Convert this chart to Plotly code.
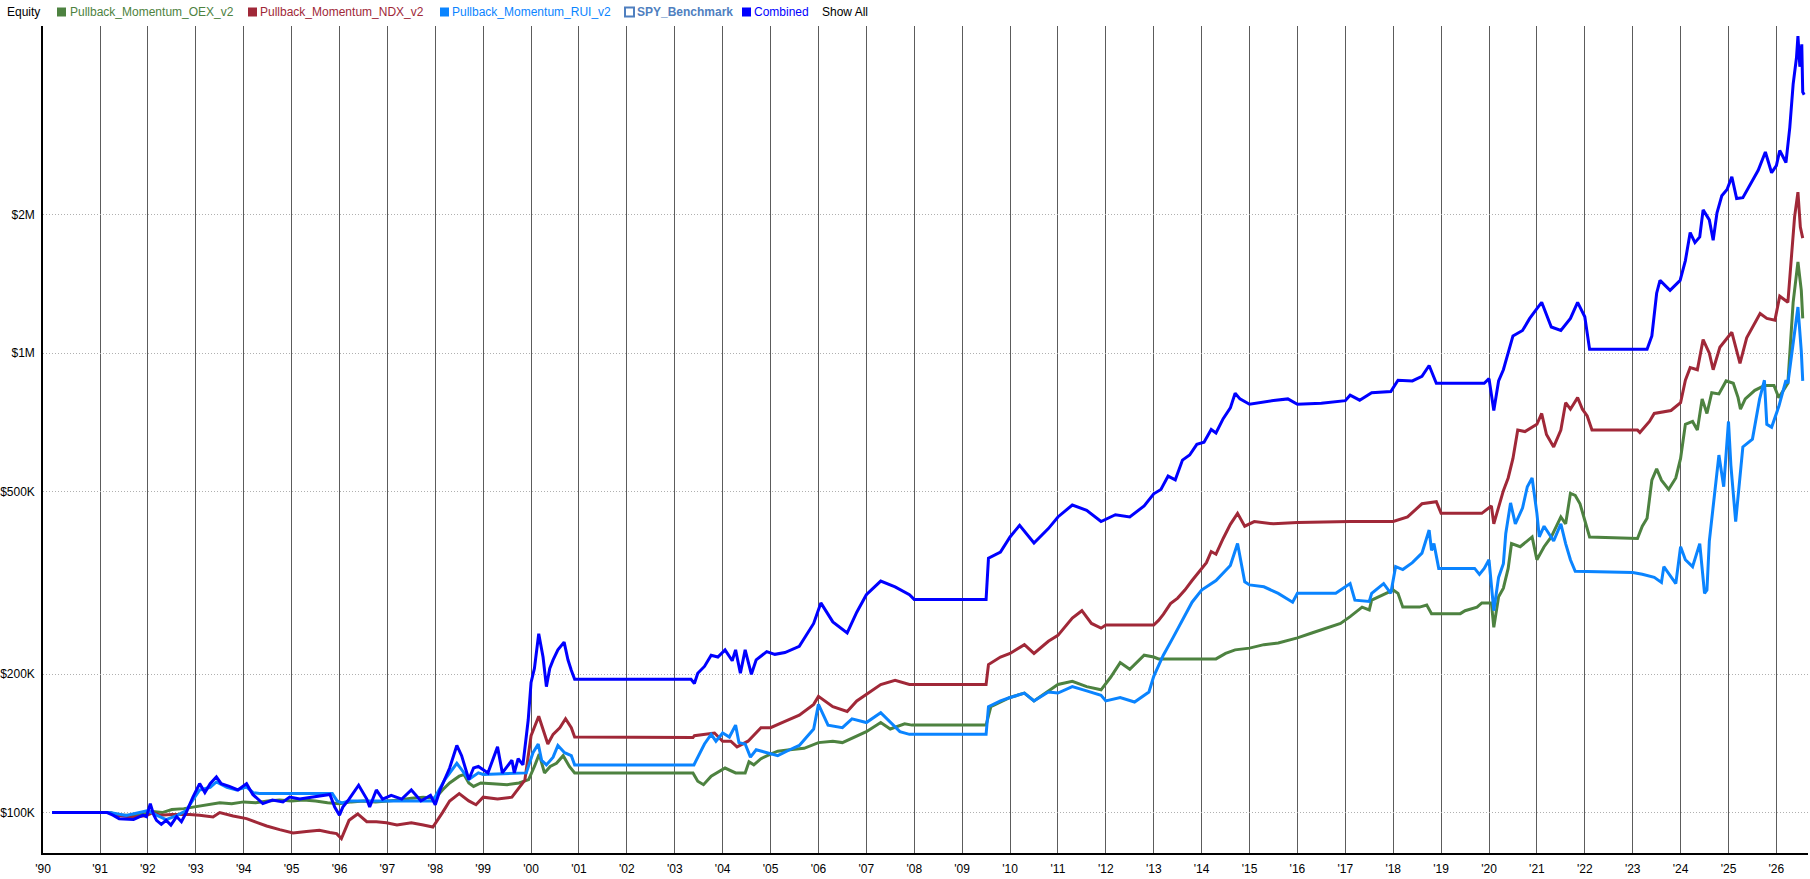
import plotly.graph_objects as go

# ---------------- data (decimal year, equity in $K) ----------------
oex_t = [1990.0,1991.2,1991.4,1991.7,1991.95,1992.1,1992.3,1992.5,1992.75,1993.0,1993.25,1993.5,1993.75,1994.0,1994.25,1994.5,1994.75,1995.0,1995.25,1995.5,1995.75,1996.0,1996.25,1996.5,1996.75,1997.0,1997.25,1997.5,1997.75,1998.0,1998.15,1998.3,1998.5,1998.6,1998.7,1998.8,1998.95,1999.2,1999.5,1999.75,1999.95,2000.07,2000.17,2000.28,2000.4,2000.53,2000.67,2000.8,2000.91,2003.38,2003.48,2003.6,2003.76,2004.05,2004.27,2004.47,2004.55,2004.65,2004.8,2005.0,2005.15,2005.4,2005.7,2006.0,2006.3,2006.5,2006.7,2007.0,2007.3,2007.5,2007.8,2007.95,2009.5,2009.6,2010.0,2010.3,2010.5,2010.8,2011.0,2011.3,2011.6,2011.9,2012.1,2012.3,2012.5,2012.8,2013.0,2013.1,2014.3,2014.5,2014.7,2015.0,2015.3,2015.6,2016.0,2016.3,2016.6,2016.9,2017.1,2017.35,2017.5,2017.55,2017.85,2018.0,2018.1,2018.2,2018.55,2018.7,2018.8,2019.4,2019.5,2019.75,2019.85,2020.05,2020.1,2020.2,2020.3,2020.4,2020.47,2020.65,2020.9,2021.0,2021.15,2021.3,2021.5,2021.6,2021.7,2021.8,2021.9,2022.0,2022.1,2023.1,2023.2,2023.3,2023.4,2023.5,2023.6,2023.75,2023.9,2024.0,2024.1,2024.25,2024.35,2024.45,2024.55,2024.65,2024.8,2024.95,2025.1,2025.2,2025.25,2025.35,2025.55,2025.75,2025.95,2026.05,2026.24,2026.35,2026.45,2026.52,2026.55]
oex_v = [100,100,98.8,98.5,99.5,100.5,100,101.5,102,103,104,105,104.5,105.5,105,106,106.5,106,106.5,106,105,104.5,105.5,106,105.5,106,106.5,107.5,108,107.5,112,116,120,121,116,114,116,115.5,115,116,118,126,134,122,126,128,133,126,122,122,117,115,120,125,122,122,129,127,131,134,136,137,138,142,143,142,145,150,157,152,156,155,155,170,178,182,175,184,190,193,188,185,197,212,205,220,218,216,216,222,226,228,232,234,240,246,252,258,267,280,276,290,300,305,300,280,280,283,271,271,275,280,286,286,253,295,308,340,385,379,398,355,379,398,440,425,495,490,470,430,398,395,420,437,529,560,529,505,535,590,700,710,680,795,739,820,815,870,860,800,755,795,830,850,850,800,860,1290,1580,1370,1190]

ndx_t = [1990.0,1991.2,1991.35,1991.7,1991.97,1992.1,1992.25,1992.5,1992.87,1993.08,1993.36,1993.5,1993.78,1994.06,1994.27,1994.48,1994.75,1995.03,1995.31,1995.58,1995.8,1995.94,1996.04,1996.15,1996.2,1996.38,1996.57,1996.77,1996.98,1997.2,1997.5,1997.75,1997.95,1998.15,1998.3,1998.5,1998.7,1998.85,1999.0,1999.3,1999.6,1999.87,2000.0,2000.16,2000.25,2000.35,2000.46,2000.6,2000.72,2000.84,2000.91,2003.38,2003.41,2003.69,2003.83,2004.0,2004.17,2004.3,2004.53,2004.8,2005.0,2005.3,2005.6,2005.9,2006.0,2006.3,2006.6,2006.8,2007.0,2007.3,2007.6,2007.9,2008.0,2009.5,2009.55,2009.8,2010.0,2010.3,2010.5,2010.8,2011.0,2011.3,2011.5,2011.7,2011.9,2012.0,2013.0,2013.1,2013.2,2013.35,2013.5,2013.65,2013.8,2013.95,2014.1,2014.2,2014.3,2014.45,2014.6,2014.75,2014.9,2015.1,2015.5,2016.0,2017.1,2018.0,2018.3,2018.6,2018.9,2019.0,2019.85,2020.05,2020.1,2020.3,2020.4,2020.5,2020.6,2020.75,2020.9,2021.0,2021.1,2021.2,2021.35,2021.5,2021.6,2021.7,2021.85,2021.95,2022.05,2022.15,2023.1,2023.15,2023.35,2023.45,2023.8,2024.0,2024.1,2024.2,2024.35,2024.47,2024.6,2024.68,2024.82,2025.07,2025.24,2025.38,2025.66,2025.8,2025.97,2026.07,2026.24,2026.32,2026.38,2026.45,2026.5,2026.55]
ndx_v = [100,100,98.7,97.7,98.5,100,98.7,99,99,98.7,97.8,100,98.3,97,95.2,93.5,91.8,90.3,91,91.5,90.5,90,87.8,93,96.2,99.3,95.5,95.5,95,94,95,94,93,100,106,110,106,104,108,107,108,117.6,147,162,151,141,148,153,160,153,146,145.6,147,148,149,143,143,139,143,153,153,158,163,172,179,170,166,175,181,190,194,190,190,190,210,218,222,232,222,236,243,265,275,258,252,256,256,262,270,285,293,305,320,335,350,370,365,395,424,448,420,430,425,428,430,430,440,470,475,448,448,465,425,502,535,590,680,675,690,700,739,665,625,680,780,755,800,755,730,680,680,672,710,739,750,780,873,930,920,1070,1000,920,1030,1110,950,1080,1220,1190,1180,1330,1290,1700,1980,2240,1880,1780]

rui_t = [1990.0,1991.2,1991.55,1991.85,1992.0,1992.18,1992.38,1992.6,1992.8,1992.94,1993.08,1993.3,1993.43,1993.65,1993.85,1994.06,1994.2,1994.33,1995.85,1995.95,1996.05,1996.2,1997.95,1998.2,1998.45,1998.55,1998.7,1998.9,1999.0,1999.9,2000.04,2000.15,2000.22,2000.32,2000.46,2000.56,2000.7,2000.84,2000.91,2003.4,2003.5,2003.62,2003.76,2003.86,2004.0,2004.14,2004.27,2004.34,2004.47,2004.58,2004.7,2004.8,2005.0,2005.15,2005.4,2005.6,2005.9,2006.0,2006.2,2006.5,2006.7,2007.0,2007.3,2007.5,2007.7,2007.9,2009.5,2009.55,2009.8,2010.0,2010.3,2010.5,2010.8,2011.0,2011.3,2011.6,2011.9,2012.0,2012.3,2012.6,2012.9,2013.0,2013.2,2013.4,2013.6,2013.8,2014.0,2014.3,2014.6,2014.75,2014.9,2015.0,2015.3,2015.6,2015.9,2016.0,2016.8,2017.0,2017.1,2017.2,2017.5,2017.55,2017.8,2017.95,2018.05,2018.2,2018.4,2018.6,2018.75,2018.8,2018.85,2018.95,2019.7,2019.8,2019.9,2020.0,2020.1,2020.2,2020.3,2020.35,2020.45,2020.55,2020.7,2020.8,2020.9,2021.0,2021.05,2021.15,2021.35,2021.5,2021.6,2021.7,2021.8,2023.0,2023.2,2023.45,2023.6,2023.65,2023.9,2024.0,2024.1,2024.25,2024.4,2024.5,2024.55,2024.6,2024.7,2024.8,2024.9,2025.0,2025.05,2025.15,2025.3,2025.5,2025.65,2025.75,2025.8,2025.9,2026.05,2026.2,2026.24,2026.33,2026.45,2026.52,2026.55]
rui_v = [100,100,98.5,100,101,98.7,96.5,98.5,101,106.5,112,113.5,116.6,113.5,112,113.6,110.5,110,110,106,105,106,106,118,128,124,118,122,121,122,135,141,130,127,132,140,135,133,127,127,133,141,148,143,149,146,155,142,141,132,137,136,134,133,137,140,152,172,155,153,160,157,165,157,150,148,148,170,175,178,182,175,183,182,188,184,180,175,178,174,183,198,220,240,262,287,305,320,345,385,318,313,310,300,287,300,300,310,315,290,288,300,315,300,343,338,350,367,412,372,385,340,340,330,340,355,275,325,348,405,472,425,460,512,535,448,398,420,390,425,385,355,335,333,330,325,317,343,315,379,355,343,385,300,305,390,486,600,512,710,570,430,625,650,795,873,700,690,765,873,860,1010,1260,1010,870]

comb_t = [1990.0,1991.15,1991.27,1991.4,1991.7,1991.9,1991.97,1992.05,1992.12,1992.18,1992.28,1992.38,1992.48,1992.6,1992.7,1992.8,1992.94,1993.08,1993.19,1993.3,1993.43,1993.53,1993.7,1993.88,1994.06,1994.19,1994.4,1994.6,1994.82,1994.96,1995.17,1995.45,1995.8,1995.9,1996.0,1996.07,1996.2,1996.4,1996.57,1996.63,1996.77,1996.9,1997.08,1997.3,1997.5,1997.7,1997.9,1998.0,1998.1,1998.3,1998.45,1998.55,1998.7,1998.8,1998.9,1999.1,1999.3,1999.4,1999.6,1999.65,1999.73,1999.83,1999.94,2000.0,2000.07,2000.16,2000.25,2000.32,2000.39,2000.46,2000.56,2000.69,2000.77,2000.84,2000.91,2003.34,2003.41,2003.48,2003.62,2003.76,2003.9,2004.05,2004.2,2004.27,2004.37,2004.47,2004.6,2004.7,2004.92,2005.09,2005.3,2005.6,2005.9,2006.05,2006.3,2006.6,2006.8,2007.0,2007.3,2007.6,2007.9,2008.0,2009.5,2009.55,2009.8,2010.0,2010.2,2010.5,2010.8,2011.0,2011.3,2011.6,2011.9,2012.2,2012.5,2012.8,2013.0,2013.15,2013.3,2013.45,2013.6,2013.75,2013.9,2014.05,2014.2,2014.3,2014.45,2014.6,2014.7,2014.8,2015.0,2015.5,2015.8,2016.0,2016.5,2017.0,2017.1,2017.3,2017.55,2017.95,2018.1,2018.4,2018.6,2018.75,2018.9,2019.9,2020.0,2020.1,2020.2,2020.3,2020.5,2020.7,2020.85,2021.0,2021.1,2021.3,2021.5,2021.7,2021.85,2022.0,2022.1,2023.3,2023.4,2023.5,2023.57,2023.78,2023.99,2024.1,2024.2,2024.3,2024.4,2024.47,2024.6,2024.68,2024.76,2024.86,2024.97,2025.07,2025.17,2025.3,2025.45,2025.62,2025.77,2025.9,2026.0,2026.07,2026.2,2026.28,2026.35,2026.42,2026.45,2026.49,2026.53,2026.55,2026.58]
comb_v = [100,100,98.7,97,96.6,98.7,98,104.6,99,96.2,94.3,96.2,93.9,98,95.5,100,108.1,115.6,110.6,115.6,119.6,115.6,114,112,115.6,109.5,104.6,106.5,105.5,108.1,107,108,109.5,102.8,98.7,102.8,107,114.7,107,102.8,112,107,109,107,112,106,109,104,112,125,140,133,118,125,126,122,139,122,130,122,131,127,159,192,206,245,218,188,206,215,226,235,215,204,195,195,191,201,208,220,218,226,214,226,201,226,200,215,224,221,223,230,258,286,260,246,273,298,319,310,298,291,291,358,369,398,422,386,415,440,467,455,430,445,440,465,494,505,540,530,585,600,633,640,682,670,720,760,818,795,774,789,795,774,778,788,810,790,820,825,873,870,890,940,860,860,880,750,870,920,1090,1120,1190,1250,1290,1140,1120,1190,1290,1200,1020,1020,1090,1350,1440,1370,1440,1590,1830,1740,1790,2050,1950,1760,2020,2200,2270,2420,2170,2180,2320,2500,2740,2470,2560,2760,2600,3100,3850,4400,4900,4200,4700,3700,3650]

series_names = ["Pullback_Momentum_OEX_v2", "Pullback_Momentum_NDX_v2", "Pullback_Momentum_RUI_v2", "Combined"]
series_colors = ["#4d8240", "#a02838", "#0a84ff", "#0000ff"]

tick_years = [1989.812] + list(range(1991, 2027))
tick_text = ["'90"] + ["'%02d" % (y % 100) for y in range(1991, 2027)]
y_tick_vals = [100000, 200000, 500000, 1000000, 2000000]
y_tick_text = ["$100K", "$200K", "$500K", "$1M", "$2M"]

# ---------------- figure ----------------
W, H = 1810, 879
ML, MR, MT, MB = 43, 2, 26, 26
PW, PH = W - ML - MR, H - MT - MB

fig = go.Figure()
for t, v, name, col in zip([oex_t, ndx_t, rui_t, comb_t], [oex_v, ndx_v, rui_v, comb_v],
                           series_names, series_colors):
    fig.add_trace(go.Scatter(x=t, y=[k * 1000 for k in v], mode="lines", name=name,
                             line=dict(color=col, width=3), hoverinfo="skip", showlegend=False))

fig.update_layout(
    width=W, height=H, margin=dict(l=ML, r=MR, t=MT, b=MB, autoexpand=False),
    paper_bgcolor="white", plot_bgcolor="white",
    font=dict(family="Liberation Sans, Arial, sans-serif", size=12, color="black"),
    xaxis=dict(range=[1989.81, 2026.66], tickmode="array", tickvals=tick_years, ticktext=tick_text,
               showgrid=True, gridcolor="#5c5c5c", gridwidth=1, zeroline=False,
               showline=True, linecolor="black", linewidth=1.5,
               ticks="outside", ticklen=4, tickcolor="rgba(0,0,0,0)", automargin=False),
    yaxis=dict(type="log", range=[4.912, 6.712], tickmode="array", tickvals=y_tick_vals,
               ticktext=y_tick_text, showgrid=True, gridcolor="#b0b0b0", griddash="1px,2px", gridwidth=1,
               zeroline=False, showline=True, linecolor="black", linewidth=1.5,
               ticks="outside", ticklen=4, tickcolor="rgba(0,0,0,0)", automargin=False),
)

# ---------------- custom legend row ----------------
def px_x(p):
    return (p - ML) / PW

def px_y(p):
    return (H - MB - p) / PH

legend_items = [
    # (square_left_px, text_left_px, label, colour, bold, hollow)
    (57, 68, series_names[0], series_colors[0], False, False),
    (248, 258, series_names[1], series_colors[1], False, False),
    (440, 450, series_names[2], series_colors[2], False, False),
    (625, 635, "SPY_Benchmark", "#4f7fbf", True, True),
    (742, 752, series_names[3], series_colors[3], False, False),
]
ann = [dict(text="Equity", x=px_x(5), y=px_y(12), xref="paper", yref="paper",
            xanchor="left", yanchor="middle", showarrow=False, font=dict(size=12, color="black")),
       dict(text="Show All", x=px_x(820), y=px_y(12), xref="paper", yref="paper",
            xanchor="left", yanchor="middle", showarrow=False, font=dict(size=12, color="black"))]
shapes = []
for sq, tx, label, col, bold, hollow in legend_items:
    ann.append(dict(text=("<b>%s</b>" % label) if bold else label, x=px_x(tx), y=px_y(12),
                    xref="paper", yref="paper", xanchor="left", yanchor="middle", showarrow=False,
                    font=dict(size=12, color=col)))
    shapes.append(dict(type="rect", xref="paper", yref="paper",
                       x0=px_x(sq), x1=px_x(sq + 9), y0=px_y(16.5), y1=px_y(7.5),
                       line=dict(color=col, width=2 if hollow else 0),
                       fillcolor="white" if hollow else col))
fig.update_layout(annotations=ann, shapes=shapes)

fig.write_html("out.html", config={"displayModeBar": False},
               post_script="document.body.style.margin='0';document.body.style.overflow='hidden';")
